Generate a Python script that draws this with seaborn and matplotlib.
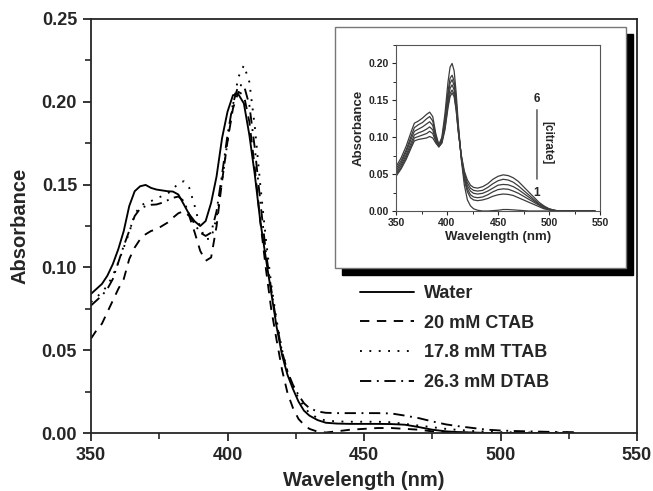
import numpy as np
import pandas as pd
import matplotlib
matplotlib.use("Agg")
import matplotlib.pyplot as plt
import seaborn as sns
from matplotlib.patches import Rectangle
from matplotlib.ticker import MultipleLocator, FormatStrFormatter

wl = [350, 352, 354, 356, 358, 360, 362, 364, 366, 368, 370, 372, 374, 376, 378,
      380, 382, 384, 386, 388, 390, 392, 394, 396, 398, 400, 402, 404, 406, 408,
      410, 412, 414, 416, 418, 420, 422, 424, 426, 428, 430, 433, 436, 440, 445,
      450, 455, 460, 465, 470, 475, 480, 485, 490, 495, 500, 505, 510, 515, 520, 527]

water = [0.084, 0.087, 0.090, 0.095, 0.102, 0.111, 0.122, 0.137, 0.146, 0.149, 0.1498,
         0.148, 0.147, 0.1465, 0.146, 0.1458, 0.144, 0.138, 0.132, 0.1278, 0.125, 0.128,
         0.139, 0.155, 0.178, 0.194, 0.204, 0.2045, 0.199, 0.180, 0.156, 0.128, 0.106,
         0.085, 0.064, 0.047, 0.035, 0.0265, 0.019, 0.0135, 0.0105, 0.0078, 0.0062,
         0.0057, 0.0055, 0.0055, 0.0055, 0.0054, 0.005, 0.0036, 0.002, 0.001, 0.0005,
         0.0003, 0.0, 0.0, 0.0, 0.0, 0.0, 0.0, 0.0]

ctab = [0.057, 0.062, 0.066, 0.073, 0.080, 0.087, 0.093, 0.105, 0.112, 0.117, 0.120,
        0.122, 0.123, 0.125, 0.127, 0.130, 0.1327, 0.134, 0.131, 0.121, 0.110, 0.104,
        0.106, 0.125, 0.152, 0.176, 0.196, 0.206, 0.204, 0.188, 0.160, 0.128, 0.100,
        0.075, 0.056, 0.038, 0.024, 0.015, 0.0085, 0.005, 0.0025, 0.0008, 0.0003,
        0.001, 0.002, 0.0025, 0.003, 0.003, 0.0025, 0.002, 0.001, 0.0005, 0.0003,
        0.0, 0.0, 0.0, 0.0, 0.0, 0.0, 0.0, 0.0]

ttab = [0.079, 0.082, 0.085, 0.089, 0.095, 0.103, 0.112, 0.121, 0.132, 0.137, 0.139,
        0.140, 0.1418, 0.143, 0.1445, 0.147, 0.151, 0.152, 0.148, 0.137, 0.124, 0.117,
        0.1175, 0.130, 0.152, 0.176, 0.198, 0.215, 0.222, 0.212, 0.185, 0.150, 0.118,
        0.090, 0.068, 0.050, 0.037, 0.028, 0.021, 0.016, 0.012, 0.009, 0.0075, 0.007,
        0.0068, 0.0068, 0.0068, 0.0065, 0.0055, 0.0045, 0.0035, 0.0025, 0.0018, 0.0012,
        0.0008, 0.0005, 0.0004, 0.0003, 0.0003, 0.0003, 0.0003]

dtab = [0.077, 0.080, 0.083, 0.087, 0.093, 0.103, 0.113, 0.122, 0.131, 0.1355, 0.137,
        0.1378, 0.138, 0.139, 0.1405, 0.142, 0.1428, 0.140, 0.132, 0.126, 0.121, 0.119,
        0.121, 0.134, 0.156, 0.180, 0.199, 0.210, 0.210, 0.198, 0.172, 0.140, 0.110,
        0.087, 0.066, 0.049, 0.037, 0.029, 0.023, 0.018, 0.015, 0.013, 0.0122, 0.012,
        0.012, 0.012, 0.012, 0.0118, 0.0105, 0.009, 0.007, 0.0052, 0.004, 0.003, 0.002,
        0.0015, 0.0012, 0.001, 0.0008, 0.0006, 0.0005]

labels = ["Water", "20 mM CTAB", "17.8 mM TTAB", "26.3 mM DTAB"]

# --- dados do gráfico inserido (citrato 1 a 6) ---
wl_in = [350, 355, 360, 365, 368, 372, 376, 380, 383, 386, 389, 392, 395, 398, 401,
         403, 405, 407, 409, 411, 414, 417, 420, 423, 426, 430, 435, 440, 445, 450,
         455, 460, 465, 470, 475, 480, 485, 490, 495, 500, 505, 510, 520, 530, 545]

cit1 = [0.060, 0.072, 0.088, 0.108, 0.119, 0.122, 0.126, 0.131, 0.134, 0.128, 0.105,
        0.090, 0.100, 0.132, 0.175, 0.195, 0.200, 0.190, 0.160, 0.120, 0.070, 0.035,
        0.015, 0.007, 0.003, 0.001, 0.0, 0.0, 0.0005, 0.001, 0.002, 0.002, 0.0015,
        0.001, 0.0005, 0.0, 0.0, 0.0, 0.0, 0.0, 0.0, 0.0, 0.0, 0.0, 0.0]
cit2 = [0.057, 0.068, 0.083, 0.102, 0.113, 0.117, 0.120, 0.125, 0.128, 0.122, 0.102,
        0.089, 0.098, 0.125, 0.162, 0.180, 0.184, 0.176, 0.150, 0.115, 0.072, 0.042,
        0.026, 0.018, 0.015, 0.014, 0.015, 0.017, 0.020, 0.022, 0.023, 0.0225, 0.021,
        0.018, 0.015, 0.012, 0.009, 0.006, 0.003, 0.0015, 0.0005, 0.0, 0.0, 0.0, 0.0]
cit3 = [0.054, 0.065, 0.080, 0.098, 0.108, 0.111, 0.114, 0.118, 0.121, 0.116, 0.099,
        0.088, 0.096, 0.121, 0.156, 0.173, 0.178, 0.170, 0.146, 0.113, 0.073, 0.045,
        0.030, 0.022, 0.019, 0.018, 0.019, 0.022, 0.026, 0.029, 0.030, 0.0295, 0.027,
        0.024, 0.020, 0.016, 0.012, 0.008, 0.004, 0.002, 0.0007, 0.0, 0.0, 0.0, 0.0]
cit4 = [0.051, 0.062, 0.076, 0.093, 0.103, 0.106, 0.108, 0.111, 0.114, 0.110, 0.096,
        0.087, 0.094, 0.117, 0.150, 0.166, 0.171, 0.164, 0.142, 0.111, 0.074, 0.048,
        0.034, 0.027, 0.024, 0.023, 0.024, 0.027, 0.031, 0.035, 0.036, 0.0355, 0.033,
        0.029, 0.024, 0.019, 0.014, 0.009, 0.005, 0.0025, 0.001, 0.0, 0.0, 0.0, 0.0]
cit5 = [0.049, 0.059, 0.073, 0.089, 0.099, 0.101, 0.103, 0.105, 0.108, 0.105, 0.094,
        0.087, 0.093, 0.113, 0.144, 0.159, 0.164, 0.158, 0.138, 0.109, 0.075, 0.051,
        0.038, 0.031, 0.028, 0.027, 0.028, 0.032, 0.037, 0.041, 0.043, 0.042, 0.039,
        0.034, 0.028, 0.022, 0.016, 0.010, 0.006, 0.003, 0.001, 0.0, 0.0, 0.0, 0.0]
cit6 = [0.047, 0.057, 0.070, 0.086, 0.095, 0.097, 0.098, 0.099, 0.101, 0.099, 0.092,
        0.087, 0.092, 0.110, 0.140, 0.155, 0.160, 0.155, 0.136, 0.108, 0.076, 0.054,
        0.042, 0.035, 0.032, 0.031, 0.033, 0.037, 0.043, 0.047, 0.049, 0.048, 0.045,
        0.040, 0.033, 0.026, 0.019, 0.012, 0.007, 0.003, 0.001, 0.0, 0.0, 0.0, 0.0]

# --- estilo ---
sns.set_theme(style="ticks")
plt.rcParams['font.family'] = ['Liberation Sans', 'DejaVu Sans']
plt.rcParams['font.weight'] = 'bold'
plt.rcParams['axes.labelweight'] = 'bold'
plt.rcParams['axes.linewidth'] = 1.3
plt.rcParams['xtick.direction'] = 'out'
plt.rcParams['ytick.direction'] = 'out'

fig = plt.figure(figsize=(6.53, 4.91), dpi=100)
ax = fig.add_axes([91 / 653, 1 - 433 / 491, 546 / 653, 414 / 491])

df = pd.DataFrame({"wl": wl, labels[0]: water, labels[1]: ctab,
                   labels[2]: ttab, labels[3]: dtab})
estilos = ['-', (0, (5, 4)), (0, (1, 4)), (0, (6, 3, 1, 3))]
for lab, ls in zip(labels, estilos):
    sns.lineplot(data=df, x="wl", y=lab, ax=ax, color='black', lw=1.35,
                 linestyle=ls, label=lab)

ax.set_xlim(350, 550)
ax.set_ylim(0, 0.25)
ax.xaxis.set_major_locator(MultipleLocator(50))
ax.xaxis.set_minor_locator(MultipleLocator(25))
ax.yaxis.set_major_locator(MultipleLocator(0.05))
ax.yaxis.set_minor_locator(MultipleLocator(0.025))
ax.yaxis.set_major_formatter(FormatStrFormatter('%.2f'))
ax.tick_params(which='major', length=6, width=1.3, labelsize=13, pad=4)
ax.tick_params(which='minor', length=4, width=1.2)
for t in ax.get_xticklabels() + ax.get_yticklabels():
    t.set_fontweight('bold')
ax.set_xlabel('Wavelength (nm)', fontsize=14.5, fontweight='bold', labelpad=5)
ax.set_ylabel('Absorbance', fontsize=14.5, fontweight='bold', labelpad=9)

leg = ax.legend(loc='upper left', bbox_to_anchor=(360 / 653, 1 - 285 / 491),
                bbox_transform=fig.transFigure, frameon=False, borderpad=0,
                borderaxespad=0, handlelength=3.0, handletextpad=0.55,
                labelspacing=0.70, prop={'size': 13, 'weight': 'bold'})

# --- caixa do gráfico inserido com sombra ---
fig.add_artist(Rectangle((342 / 653, 1 - 275 / 491), 291 / 653, 241 / 491,
                         transform=fig.transFigure, facecolor='black',
                         edgecolor='black', zorder=2))
fig.add_artist(Rectangle((335 / 653, 1 - 268 / 491), 291 / 653, 241 / 491,
                         transform=fig.transFigure, facecolor='white',
                         edgecolor='#777777', lw=1.0, zorder=3))

ins = fig.add_axes([396 / 653, 1 - 211 / 491, 204 / 653, 166 / 491])
ins.set_zorder(5)
ins.set_facecolor('white')
for c in [cit1, cit2, cit3, cit4, cit5, cit6]:
    sns.lineplot(x=wl_in, y=c, ax=ins, color='#3c3c3c', lw=0.9)

ins.set_xlim(350, 550)
ins.set_ylim(0, 0.225)
ins.xaxis.set_major_locator(MultipleLocator(50))
ins.xaxis.set_minor_locator(MultipleLocator(25))
ins.yaxis.set_major_locator(MultipleLocator(0.05))
ins.yaxis.set_minor_locator(MultipleLocator(0.025))
ins.yaxis.set_major_formatter(FormatStrFormatter('%.2f'))
for s in ins.spines.values():
    s.set_linewidth(0.8)
    s.set_color('#555555')
ins.tick_params(which='major', length=3, width=0.8, labelsize=7.5, pad=2)
ins.tick_params(which='minor', length=2, width=0.7)
for t in ins.get_xticklabels() + ins.get_yticklabels():
    t.set_fontweight('bold')
ins.set_xlabel('Wavelength (nm)', fontsize=9.5, fontweight='bold', labelpad=2)
ins.set_ylabel('Absorbance', fontsize=9.5, fontweight='bold', labelpad=3)

ins.annotate('', xy=(0.691, 0.627), xytext=(0.691, 0.175), xycoords='axes fraction',
             arrowprops=dict(arrowstyle='-', lw=0.9, color='#333333'))
ins.text(0.691, 0.675, '6', transform=ins.transAxes, ha='center', va='center',
         fontsize=8.5, fontweight='bold')
ins.text(0.691, 0.108, '1', transform=ins.transAxes, ha='center', va='center',
         fontsize=8.5, fontweight='bold')
ins.text(0.74, 0.41, '[citrate]', transform=ins.transAxes, ha='center',
         va='center', rotation=270, fontsize=8.5, fontweight='bold')

plt.savefig('out.png', dpi=100)
